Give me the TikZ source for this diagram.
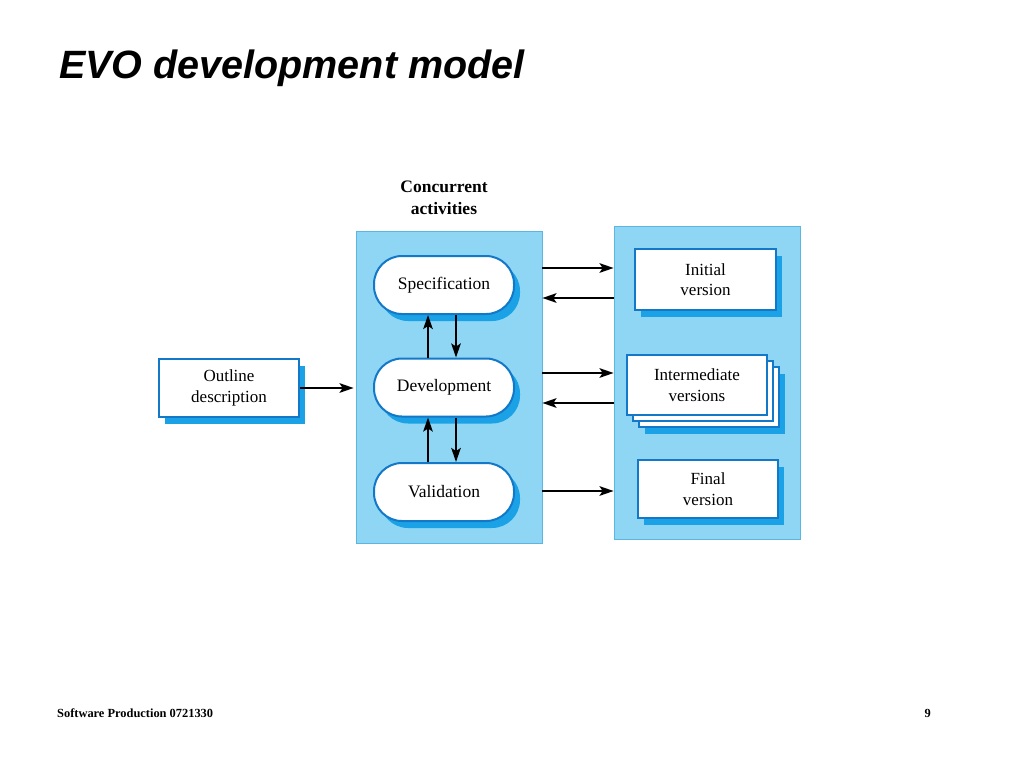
\documentclass[tikz,border=0pt]{standalone}
\usepackage{fontspec}
\setmainfont{Liberation Serif}
\newfontfamily\titlefont{Liberation Sans}
\usetikzlibrary{arrows.meta,shadows}
\definecolor{panel}{HTML}{8ED6F4}
\definecolor{panelborder}{HTML}{5CB6E2}
\definecolor{boxline}{HTML}{1478C8}
\definecolor{shadowblue}{HTML}{1BA2E6}
\tikzset{
  panelbox/.style={draw=panelborder, line width=0.8pt, fill=panel, minimum width=186pt, minimum height=312pt, inner sep=0pt},
  bshadow/.style={drop shadow={shadow xshift=6pt, shadow yshift=-7pt, fill=shadowblue, opacity=1}},
  actbox/.style={draw=boxline, line width=2pt, fill=white, rounded corners=28pt, minimum width=140pt, minimum height=58pt, inner sep=0pt, font=\fontsize{17.5}{20}\selectfont, bshadow},
  verbox/.style={draw=boxline, line width=2pt, fill=white, minimum width=140pt, minimum height=60pt, inner sep=0pt, align=center, font=\fontsize{17}{20.5}\selectfont},
  arr/.style={draw=black, line width=2.2pt, -{Stealth[length=14pt,width=9.5pt,inset=3pt]}},
}
\begin{document}
\begin{tikzpicture}[x=1pt,y=-1pt]
\useasboundingbox[fill=white] (0,0) rectangle (1024,768);
% title
\node[anchor=base west, inner sep=0pt, font=\titlefont\bfseries\itshape\fontsize{39.5}{44}\selectfont] (title) at (59,78) {EVO development model};
% panels
\node[panelbox] (left) at (449,387) {};
\node[panelbox, minimum height=313pt] (right) at (707,382.5) {};
\node[align=center, font=\bfseries\fontsize{17.5}{22}\selectfont, inner sep=0pt] (conc) at (444,198) {Concurrent\\activities};
% activities
\node[actbox] (spec) at (444,285) {Specification};
\node[actbox] (dev) at (444,387.5) {Development};
\node[actbox] (val) at (444,492) {Validation};
% outline
\node[verbox, minimum height=58pt, bshadow] (outline) at (229,388) {Outline\\description};
% versions
\node[verbox, minimum width=141pt, minimum height=61pt, bshadow] (init) at (705.5,279.5) {Initial\\version};
\node[verbox, bshadow] (inter3) at (709,397) {};
\node[verbox] (inter2) at (703,391) {};
\node[verbox] (inter) at (697,385) {Intermediate\\versions};
\node[verbox, minimum height=58pt, bshadow] (final) at (708,489) {Final\\version};
% vertical arrows
\draw[arr] ([xshift=-16pt]dev.north) -- ([xshift=-16pt]spec.south);
\draw[arr] ([xshift=12pt]spec.south) -- ([xshift=12pt]dev.north);
\draw[arr] ([xshift=-16pt]val.north) -- ([xshift=-16pt]dev.south);
\draw[arr] ([xshift=12pt]dev.south) -- ([xshift=12pt]val.north);
% outline to panel
\draw[arr, shorten >=2pt] (outline.east) -- (outline.east -| left.west);
% panel to panel
\coordinate (a1) at (left.east |- 0,268);
\coordinate (a2) at (left.east |- 0,298);
\coordinate (a3) at (left.east |- 0,373);
\coordinate (a4) at (left.east |- 0,403);
\coordinate (a5) at (left.east |- 0,491);
\draw[arr] (a1) -- (a1 -| right.west);
\draw[arr] (a2 -| right.west) -- (a2);
\draw[arr] (a3) -- (a3 -| right.west);
\draw[arr] (a4 -| right.west) -- (a4);
\draw[arr] (a5) -- (a5 -| right.west);
% footer
\node[anchor=base west, inner sep=0pt, font=\bfseries\fontsize{12.4}{14}\selectfont] (foot) at (57,717) {Software Production 0721330};
\node[anchor=base east, inner sep=0pt, font=\bfseries\fontsize{12.4}{14}\selectfont] (page) at (931,717) {9};
\end{tikzpicture}
\end{document}
